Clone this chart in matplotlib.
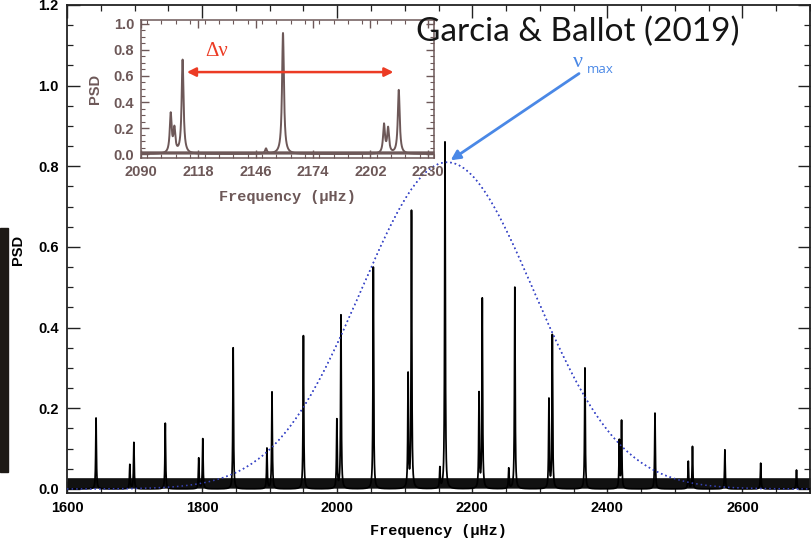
import numpy as np
import matplotlib
matplotlib.use("Agg")
import matplotlib.pyplot as plt
from matplotlib.ticker import MultipleLocator
from matplotlib.patches import Rectangle

plt.rcParams["mathtext.fontset"] = "stix"

# ---- data -------------------------------------------------------------
# main spectrum: mode frequencies (µHz) and peak PSD
peak_freq = [1643, 1693, 1699, 1745.5, 1795, 1801, 1846, 1896, 1903.5, 1950,
             1999.5, 2005.6, 2053.5, 2105, 2110, 2152, 2159.6, 2210, 2214.8,
             2254, 2263, 2313.5, 2318.5, 2366.8, 2417.7, 2421, 2470.5,
             2519.8, 2526, 2574, 2627, 2680]
peak_height = [0.176, 0.06, 0.115, 0.163, 0.076, 0.124, 0.35, 0.10, 0.24, 0.38,
               0.17, 0.43, 0.55, 0.28, 0.687, 0.05, 0.86, 0.234, 0.47,
               0.05, 0.50, 0.22, 0.38, 0.30, 0.118, 0.167, 0.188,
               0.068, 0.105, 0.097, 0.064, 0.047]
peak_hwhm = 0.6            # µHz
noise_band = (0.002, 0.028)  # PSD range of the background noise

# Gaussian envelope of the oscillation power
numax = 2163.0
env_height = 0.81
env_sigma = 128.0

# zoomed spectrum (inset)
inset_freq = [2104.5, 2106.3, 2110.3, 2151, 2159.3, 2208.6, 2210.6, 2215.8]
inset_height = [0.30, 0.18, 0.72, 0.04, 0.93, 0.22, 0.19, 0.49]
inset_noise_band = (0.0, 0.025)
dnu_span = (2112.4, 2213.2)
dnu_level = 0.63

main_xticks = [1600, 1800, 2000, 2200, 2400, 2600]
main_yticks = [0.0, 0.2, 0.4, 0.6, 0.8, 1.0, 1.2]
inset_xticks = [2090, 2118, 2146, 2174, 2202, 2230]
inset_yticks = [0.0, 0.2, 0.4, 0.6, 0.8, 1.0]


def lorentz_sum(f, centers, heights, hwhm):
    out = np.zeros_like(f)
    for c, h in zip(centers, heights):
        out += h * hwhm**2 / ((f - c) ** 2 + hwhm**2)
    return out


# ---- figure -----------------------------------------------------------
W, H = 811, 539
fig = plt.figure(figsize=(W / 100, H / 100), dpi=100)


def px_axes(x0, y0, x1, y1):
    return [x0 / W, 1 - y1 / H, (x1 - x0) / W, (y1 - y0) / H]


tick_font = dict(family="Liberation Sans", weight="bold", size=10.5)
label_font = dict(family="Liberation Mono", weight="bold", size=11)

# main panel
ax = fig.add_axes(px_axes(67, 5, 810, 493))
freq = np.arange(1600, 2700.001, 0.05)
psd = lorentz_sum(freq, peak_freq, peak_height, peak_hwhm)
env = env_height * np.exp(-0.5 * ((freq - numax) / env_sigma) ** 2)
ax.plot(freq, env, color="#3b48c8", lw=1.1, ls=(0, (1, 2)), zorder=1)
ax.fill_between(freq, noise_band[0], noise_band[1], color="#111111", lw=0,
                zorder=2)
ax.plot(freq, psd, color="black", lw=1.25, zorder=3)
ax.plot(freq, env, color="#3b48c8", lw=1.1, ls=(0, (1, 2)), zorder=4,
        alpha=0.9)

ax.set_xlim(1600, 2700)
ax.set_ylim(-0.01, 1.2)
ax.set_xticks(main_xticks)
ax.set_yticks(main_yticks)
ax.set_xticklabels([str(t) for t in main_xticks], fontdict=tick_font)
ax.set_yticklabels([f"{t:.1f}" for t in main_yticks], fontdict=tick_font)
ax.xaxis.set_minor_locator(MultipleLocator(50))
ax.yaxis.set_minor_locator(MultipleLocator(0.05))
ax.tick_params(which="both", direction="in", top=True, right=True, color="#222222")
ax.tick_params(which="major", length=9, width=1.0, pad=6)
ax.tick_params(which="minor", length=4.5, width=0.9)
for s in ax.spines.values():
    s.set_linewidth(1.3)
    s.set_color("#222222")
ax.set_xlabel("Frequency (µHz)", fontdict=label_font, labelpad=6)
fig.text(18 / W, 1 - 250 / H, "PSD", rotation=90, ha="center", va="center",
         **tick_font)

# nu_max arrow and label
ax.annotate("", xy=(2168, 0.815), xytext=(2358, 1.03),
            arrowprops=dict(arrowstyle="-|>", color="#4a88e6", lw=2.0,
                            mutation_scale=14, shrinkA=0, shrinkB=0),
            zorder=6)
ax.text(2349, 1.058, "ν", color="#4a88e6", fontsize=16, family="Liberation Serif",
        ha="left", va="center", zorder=6)
ax.text(2370, 1.040, "max", color="#4a88e6", fontsize=9.5, family="Open Sans",
        ha="left", va="center", zorder=6)

# inset panel
brown = "#6d5858"
ins = fig.add_axes(px_axes(141, 20, 434, 158))
ins.set_facecolor("white")
ifreq = np.arange(2090, 2233.001, 0.02)
ipsd = lorentz_sum(ifreq, inset_freq, inset_height, 0.55)
ins.fill_between(ifreq, inset_noise_band[0], inset_noise_band[1], color=brown,
                 lw=0, zorder=2)
ins.plot(ifreq, ipsd, color=brown, lw=1.4, zorder=3)
ins.set_xlim(2090, 2233)
ins.set_ylim(-0.03, 1.03)
ins.set_xticks(inset_xticks)
ins.set_yticks(inset_yticks)
ins.set_xticklabels([str(t) for t in inset_xticks], fontdict=tick_font, color=brown)
ins.set_yticklabels([f"{t:.1f}" for t in inset_yticks], fontdict=tick_font, color=brown)
ins.yaxis.set_minor_locator(MultipleLocator(0.05))
ins.xaxis.set_minor_locator(MultipleLocator(7))
ins.tick_params(which="both", direction="in", top=True, right=True, color=brown)
ins.tick_params(which="major", length=6, width=1.0, pad=5)
ins.tick_params(which="minor", length=3, width=0.8)
for s in ins.spines.values():
    s.set_linewidth(1.1)
    s.set_color(brown)
ins.set_xlabel("Frequency (µHz)", fontdict=label_font, color=brown, labelpad=8)
ins.set_ylabel("PSD", fontdict=tick_font, color=brown, labelpad=8)

ins.annotate("", xy=(dnu_span[0], dnu_level), xytext=(dnu_span[1], dnu_level),
             arrowprops=dict(arrowstyle="<|-|>", color="#ec3b24", lw=1.8,
                             mutation_scale=13, shrinkA=0, shrinkB=0),
             zorder=6)
ins.text(2127, 0.79, "Δν", color="#ec3b24", fontsize=15,
         family="Liberation Serif", ha="center", va="center", zorder=6)

# citation
fig.text(416 / W, 1 - 32 / H, "Garcia & Ballot (2019)", family="Lato",
         weight="normal", size=24, color="#151515", ha="left", va="center",
         zorder=10)

# dark strip at the left edge
fig.patches.append(Rectangle((0, 1 - 472 / H), 8 / W, 244 / H,
                             transform=fig.transFigure, color="#1d1915",
                             zorder=0))

fig.savefig("out.png", dpi=100)
